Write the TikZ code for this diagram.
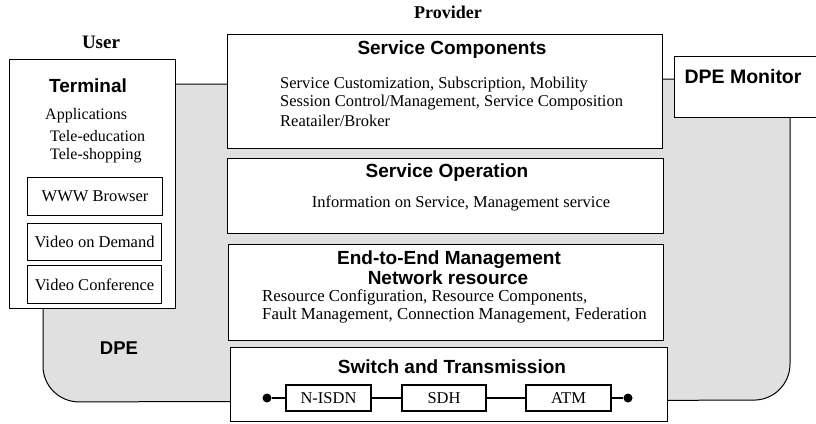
\documentclass[tikz,border=0pt]{standalone}
\usepackage{fontspec}
\setmainfont{Liberation Serif}
\newfontfamily\hsans{Liberation Sans}
\begin{document}
\begin{tikzpicture}[x=1pt,y=-1pt,
  box/.style={draw=black, line width=1.1pt, fill=white, inner sep=0pt, anchor=north west},
  head/.style={font=\hsans\bfseries\fontsize{19}{19}\selectfont, inner sep=0pt},
  body/.style={font=\fontsize{16.5}{20}\selectfont, inner sep=0pt},
  lbl/.style={font=\bfseries\fontsize{19}{20}\selectfont, inner sep=0pt},
  tdot/.style={circle, fill=black, inner sep=0pt, minimum size=9pt},
  link/.style={line width=1.1pt}
]
\clip (0,0) rectangle (816,423);
\useasboundingbox (0,0) rectangle (816,423);
\fill[white] (0,0) rectangle (816,423);

% DPE region
\draw[line width=1pt, fill=black!12, rounded corners=0pt]
  (170,84) -- (445,84) -- (445,79) -- (790,79)
  [rounded corners=36pt] -- (790,400) -- (43,402)
  [rounded corners=0pt] -- (43,84) -- cycle;
\node[lbl, font=\hsans\bfseries\fontsize{18.5}{19}\selectfont] (dpe) at (119,348) {DPE};

% labels
\node[lbl] (user) at (101,42) {User};
\node[lbl, font=\bfseries\fontsize{18}{19}\selectfont] (provider) at (448,12) {Provider};

% Terminal
\node[box, minimum width=166pt, minimum height=249pt] (term) at (9,59) {};
\node[head] (termt) at (88,86) {Terminal};
\node[body, anchor=west, font=\fontsize{16}{20}\selectfont] (app) at (45,116) {Applications};
\node[body, anchor=west, font=\fontsize{16}{20}\selectfont] (tedu) at (50,136) {Tele-education};
\node[body, anchor=west, font=\fontsize{16}{20}\selectfont] (tshop) at (50,156) {Tele-shopping};
\node[box, minimum width=135pt, minimum height=38pt] (www) at (27,177) {};
\node[body] at (www.center) {WWW Browser};
\node[box, minimum width=134pt, minimum height=37pt] (vod) at (27,223) {};
\node[body] at (vod.center) {Video on Demand};
\node[box, minimum width=134pt, minimum height=38pt] (vconf) at (27,265) {};
\node[body] at (vconf.center) {Video Conference};

% Service Components
\node[box, minimum width=435pt, minimum height=114pt] (sc) at (227,34) {};
\node[head] (sct) at (452,50) {Service Components};
\node[body, anchor=west] at (280,85) {Service Customization, Subscription, Mobility};
\node[body, anchor=west] at (280,103) {Session Control/Management, Service Composition};
\node[body, anchor=west] at (280,121) {Reatailer/Broker};

% Service Operation
\node[box, minimum width=436pt, minimum height=75pt] (so) at (227,158) {};
\node[head] (sot) at (447,173) {Service Operation};
\node[body] at (461,203) {Information on Service, Management service};

% End-to-End
\node[box, minimum width=435pt, minimum height=96pt] (ee) at (228,244) {};
\node[head] (eet1) at (449,260) {End-to-End Management};
\node[head] (eet2) at (448,278) {Network resource};
\node[body, anchor=west, font=\fontsize{16.8}{20}\selectfont] at (262,297) {Resource Configuration, Resource Components,};
\node[body, anchor=west, font=\fontsize{16.8}{20}\selectfont] at (262,315) {Fault Management, Connection Management, Federation};

% Switch and Transmission
\node[box, minimum width=437pt, minimum height=74pt] (sw) at (230,347) {};
\node[head] (swt) at (452,367) {Switch and Transmission};
\node[box, minimum width=85pt, minimum height=26pt, font=\fontsize{16.5}{20}\selectfont, anchor=center] (nisdn) at (328.5,398) {N-ISDN};
\node[box, minimum width=84pt, minimum height=26pt, font=\fontsize{16.5}{20}\selectfont, anchor=center] (sdh) at (444,398) {SDH};
\node[box, minimum width=85pt, minimum height=26pt, font=\fontsize{16.5}{20}\selectfont, anchor=center] (atm) at (568.5,398) {ATM};
\node[tdot] (d1) at (267,398) {};
\node[tdot] (d2) at (628,398) {};
\draw[link] (d1) -- (nisdn);
\draw[link] (nisdn) -- (sdh);
\draw[link] (sdh) -- (atm);
\draw[link] (atm) -- (d2);

% DPE Monitor
\node[box, minimum width=150pt, minimum height=61pt] (mon) at (674,56) {};
\node[head, font=\hsans\bfseries\fontsize{19.5}{20}\selectfont] (mont) at (743,77) {DPE Monitor};
\end{tikzpicture}
\end{document}
